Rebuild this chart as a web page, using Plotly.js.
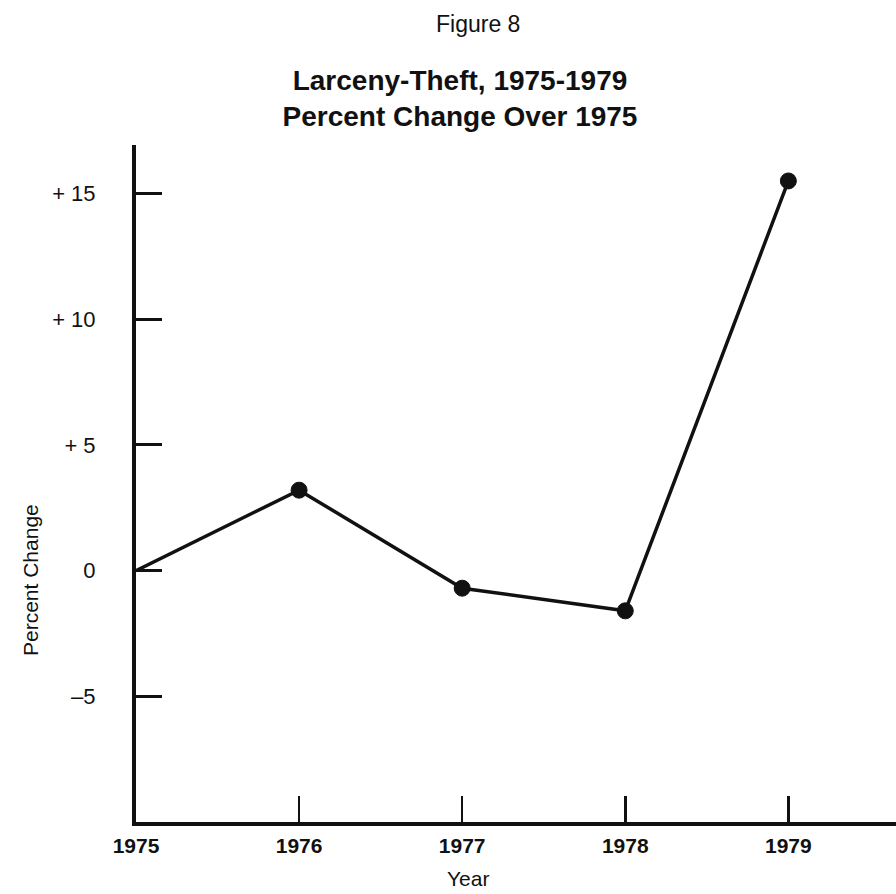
<!DOCTYPE html>
<html>
<head>
<meta charset="utf-8">
<script src="https://cdn.plot.ly/plotly-3.0.1.min.js"></script>
<style>
  html, body { margin: 0; padding: 0; background: #ffffff; }
  #chart { width: 896px; height: 894px; }
</style>
</head>
<body>
<div id="chart"></div>
<script>
// Data
const years = [1975, 1976, 1977, 1978, 1979];
const percentChange = [0, 3.2, -0.7, -1.6, 15.5];
const yTickVals = [-5, 0, 5, 10, 15];
const yTickText = ["\u20135", "0", "+ 5", "+ 10", "+ 15"];
const xTickVals = [1975, 1976, 1977, 1978, 1979];
const xTickText = ["1975", "1976", "1977", "1978", "1979"];

const ink = "#111111";
const font = "Liberation Sans, Arial, Helvetica, sans-serif";

const trace = {
  type: "scatter",
  mode: "lines+markers",
  x: years,
  y: percentChange,
  line: { color: ink, width: 3.5 },
  marker: {
    color: ink,
    opacity: 1,
    size: [0, 16, 16, 16, 16],
    line: { width: 1, color: ink }
  },
  hoverinfo: "skip",
  showlegend: false
};

const layout = {
  width: 896,
  height: 894,
  paper_bgcolor: "#ffffff",
  plot_bgcolor: "#ffffff",
  margin: { l: 136, r: 0, t: 145, b: 72 },
  title: {
    text: "<b>Larceny-Theft, 1975-1979<br>Percent Change Over 1975</b>",
    x: 460 / 896,
    xref: "container",
    xanchor: "center",
    y: 1 - 90 / 894,
    yref: "container",
    yanchor: "top",
    font: { family: font, size: 28, color: ink }
  },
  xaxis: {
    range: [1975, 1979.66],
    tickmode: "array",
    tickvals: xTickVals,
    ticktext: xTickText,
    ticks: "inside",
    ticklen: 26,
    tickwidth: 2.5,
    tickcolor: ink,
    ticklabelstandoff: 2,
    showline: true,
    linecolor: ink,
    linewidth: 4,
    showgrid: false,
    zeroline: false,
    tickfont: { family: font, size: 21, color: ink, weight: "bold" },
    fixedrange: true
  },
  yaxis: {
    range: [-10, 16.93],
    tickmode: "array",
    tickvals: yTickVals,
    ticktext: yTickText,
    ticks: "inside",
    ticklen: 26,
    tickwidth: 3,
    tickcolor: ink,
    ticklabelstandoff: 32,
    showline: true,
    linecolor: ink,
    linewidth: 4,
    showgrid: false,
    zeroline: false,
    tickfont: { family: font, size: 22, color: ink },
    fixedrange: true
  },
  annotations: [
    {
      text: "Figure 8",
      xref: "paper", yref: "paper",
      x: (478 - 136) / 760, y: 1 + (145 - 24) / 677,
      xanchor: "center", yanchor: "middle",
      showarrow: false,
      font: { family: font, size: 23, color: ink }
    },
    {
      text: "Year",
      xref: "paper", yref: "paper",
      x: (468 - 136) / 760, y: -(878 - 822) / 677,
      xanchor: "center", yanchor: "middle",
      showarrow: false,
      font: { family: font, size: 21, color: ink }
    },
    {
      text: "Percent Change",
      xref: "paper", yref: "paper",
      x: -(136 - 30) / 760, y: (822 - 580) / 677,
      xanchor: "center", yanchor: "middle",
      textangle: -90,
      showarrow: false,
      font: { family: font, size: 21, color: ink }
    }
  ]
};

Plotly.newPlot("chart", [trace], layout, { displayModeBar: false, staticPlot: true });
</script>
</body>
</html>
